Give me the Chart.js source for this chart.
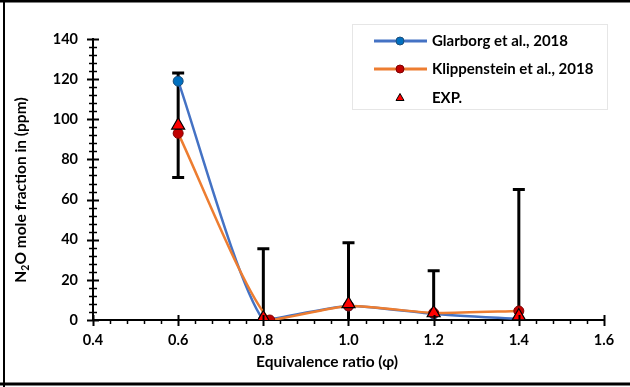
<!DOCTYPE html>
<html>
<head>
<meta charset="utf-8">
<script src="https://cdn.jsdelivr.net/npm/chart.js@4.4.1/dist/chart.umd.min.js"></script>
<style>
  html, body { margin: 0; padding: 0; background: #fff; }
  canvas { display: block; }
</style>
</head>
<body>
<canvas id="myChart" width="630" height="387"></canvas>
<script>
// Equivalence ratio positions of the model points
const phiValues = [0.6, 0.8, 1.0, 1.2, 1.4];
const phiKlippenstein = [0.6, 0.815, 1.0, 1.2, 1.4];

// N2O (ppm) from the two mechanisms
const glarborg = [119, 0, 7, 3, 0.5];
const klippenstein = [93, 0, 7, 3.5, 4.5];

// Measurements and their error bars (ppm)
const expValues = [97, 1, 8, 3.5, 2];
const expError = [26, 34.5, 30.5, 21, 63];

// Axis ticks
const xTickLabels = [0.4, 0.6, 0.8, 1.0, 1.2, 1.4, 1.6];
const yTickLabels = [0, 20, 40, 60, 80, 100, 120, 140];

const FONT = 'Lato, "Open Sans", sans-serif';
const toXY = (xs, ys) => xs.map((x, i) => ({ x: x, y: ys[i] }));

// Black error bars with caps, drawn under the markers
const errorBars = {
    id: 'errorBars',
    beforeDatasetsDraw(chart) {
        const { ctx, chartArea, scales: { x, y } } = chart;
        ctx.save();
        ctx.beginPath();
        ctx.rect(chartArea.left - 8, chartArea.top - 2, chartArea.right - chartArea.left + 16, chartArea.bottom - chartArea.top + 2);
        ctx.clip();
        ctx.strokeStyle = '#000';
        ctx.lineWidth = 3;
        phiValues.forEach((phi, i) => {
            const px = x.getPixelForValue(phi);
            const top = y.getPixelForValue(expValues[i] + expError[i]);
            const bot = y.getPixelForValue(expValues[i] - expError[i]);
            ctx.beginPath();
            ctx.moveTo(px, top);
            ctx.lineTo(px, bot);
            ctx.moveTo(px - 6, top);
            ctx.lineTo(px + 6, top);
            ctx.moveTo(px - 6, bot);
            ctx.lineTo(px + 6, bot);
            ctx.stroke();
        });
        ctx.restore();
    }
};

// Major/minor tick marks, axis titles, legend and frame
const decorations = {
    id: 'decorations',
    afterDraw(chart) {
        const { ctx, chartArea, scales: { x, y } } = chart;
        const x0 = chartArea.left, y0 = chartArea.bottom;
        ctx.save();
        ctx.strokeStyle = '#000';

        // y ticks cross the axis
        for (let v = 0; v <= 140; v += 4) {
            const py = Math.round(y.getPixelForValue(v)) + 0.5;
            const major = v % 20 === 0;
            const len = major ? 6 : 4;
            ctx.lineWidth = major ? 2 : 1.5;
            ctx.beginPath();
            ctx.moveTo(x0 - len, py);
            ctx.lineTo(x0 + len, py);
            ctx.stroke();
        }
        // x ticks: majors cross, minors hang below
        for (let k = 0; k <= 30; k++) {
            const v = 0.4 + k * 0.04;
            const px = Math.round(x.getPixelForValue(v)) + 0.5;
            const major = k % 5 === 0;
            ctx.lineWidth = major ? 2 : 1.5;
            ctx.beginPath();
            ctx.moveTo(px, major ? y0 - 5 : y0);
            ctx.lineTo(px, y0 + (major ? 6 : 4));
            ctx.stroke();
        }

        ctx.fillStyle = '#000';
        ctx.textBaseline = 'middle';

        // x axis title
        ctx.font = 'bold 15.5px ' + FONT;
        ctx.textAlign = 'center';
        ctx.fillText('Equivalence ratio (\u03c6)', 327, 362);

        // y axis title with subscript
        ctx.save();
        ctx.translate(21, 190);
        ctx.rotate(-Math.PI / 2);
        const big = 'bold 15.5px ' + FONT, small = 'bold 10.5px ' + FONT;
        ctx.font = big;
        const wN = ctx.measureText('N').width;
        const wRest = ctx.measureText('O mole fraction in (ppm)').width;
        ctx.font = small;
        const w2 = ctx.measureText('2').width;
        let tx = -(wN + w2 + wRest) / 2;
        ctx.textAlign = 'left';
        ctx.font = big;
        ctx.fillText('N', tx, 0);
        tx += wN;
        ctx.font = small;
        ctx.fillText('2', tx, 5);
        tx += w2;
        ctx.font = big;
        ctx.fillText('O mole fraction in (ppm)', tx, 0);
        ctx.restore();

        // legend
        ctx.strokeStyle = '#e6e6e6';
        ctx.lineWidth = 1;
        ctx.strokeRect(352.5, 24.5, 255, 85);
        const rows = [
            { label: 'Glarborg et al., 2018', line: '#4472C4', fill: '#0070C0', edge: '#1F4E79', y: 41 },
            { label: 'Klippenstein et al., 2018', line: '#ED7D31', fill: '#C00000', edge: '#7F0000', y: 69 },
            { label: 'EXP.', y: 98 }
        ];
        rows.forEach(r => {
            if (r.line) {
                ctx.strokeStyle = r.line;
                ctx.lineWidth = 3;
                ctx.beginPath();
                ctx.moveTo(374, r.y);
                ctx.lineTo(427, r.y);
                ctx.stroke();
                ctx.fillStyle = r.fill;
                ctx.strokeStyle = r.edge;
                ctx.lineWidth = 1;
                ctx.beginPath();
                ctx.arc(400, r.y, 4, 0, Math.PI * 2);
                ctx.fill();
                ctx.stroke();
            } else {
                ctx.fillStyle = '#FF0000';
                ctx.strokeStyle = '#000';
                ctx.lineWidth = 1;
                ctx.beginPath();
                ctx.moveTo(400, r.y - 4.5);
                ctx.lineTo(404, r.y + 2.5);
                ctx.lineTo(396, r.y + 2.5);
                ctx.closePath();
                ctx.fill();
                ctx.stroke();
            }
            ctx.fillStyle = '#000';
            ctx.font = 'bold 15px ' + FONT;
            ctx.textAlign = 'left';
            ctx.fillText(r.label, 432, r.y);
        });

        // outer frame (top, left, bottom)
        ctx.fillStyle = '#000';
        ctx.fillRect(0, 0, 630, 2.5);
        ctx.fillRect(3, 0, 2, 387);
        ctx.fillRect(0, 382.5, 630, 3);
        ctx.restore();
    }
};

const ctx = document.getElementById('myChart').getContext('2d');
let myChart = new Chart(ctx, {
    type: 'scatter',
    data: {
        datasets: [{
            label: 'Glarborg et al., 2018',
            data: toXY(phiValues, glarborg),
            showLine: true,
            tension: 0.2,
            borderColor: '#4472C4',
            borderWidth: 2.5,
            pointRadius: 5,
            pointBackgroundColor: '#0070C0',
            pointBorderColor: '#1F4E79',
            pointBorderWidth: 1,
            order: 3
        }, {
            label: 'Klippenstein et al., 2018',
            data: toXY(phiKlippenstein, klippenstein),
            showLine: true,
            tension: 0.2,
            borderColor: '#ED7D31',
            borderWidth: 2.5,
            pointRadius: 5,
            pointBackgroundColor: '#C00000',
            pointBorderColor: '#7F0000',
            pointBorderWidth: 1,
            order: 2
        }, {
            label: 'EXP.',
            data: toXY(phiValues, expValues),
            showLine: false,
            pointStyle: 'triangle',
            pointRadius: 7.5,
            pointBackgroundColor: '#FF0000',
            pointBorderColor: '#000',
            pointBorderWidth: 1.2,
            order: 1
        }]
    },
    options: {
        responsive: false,
        animation: false,
        layout: { padding: { top: 39, right: 26, left: 0, bottom: 0 } },
        plugins: {
            legend: { display: false },
            tooltip: { enabled: false }
        },
        scales: {
            x: {
                type: 'linear',
                min: 0.4,
                max: 1.6,
                afterFit: s => { s.height = 67; },
                afterBuildTicks: s => { s.ticks = xTickLabels.map(v => ({ value: v })); },
                grid: { display: false, drawTicks: false },
                border: { display: true, color: '#000', width: 2 },
                ticks: {
                    padding: 12,
                    color: '#000',
                    font: { family: FONT, size: 14.5, weight: 'bold' },
                    callback: v => v.toFixed(1)
                }
            },
            y: {
                min: 0,
                max: 140,
                afterFit: s => { s.width = 93; },
                afterBuildTicks: s => { s.ticks = yTickLabels.map(v => ({ value: v })); },
                grid: { display: false, drawTicks: false },
                border: { display: true, color: '#000', width: 2 },
                ticks: {
                    padding: 15,
                    color: '#000',
                    font: { family: FONT, size: 14.5, weight: 'bold' }
                }
            }
        }
    },
    plugins: [errorBars, decorations]
});
</script>
</body>
</html>
